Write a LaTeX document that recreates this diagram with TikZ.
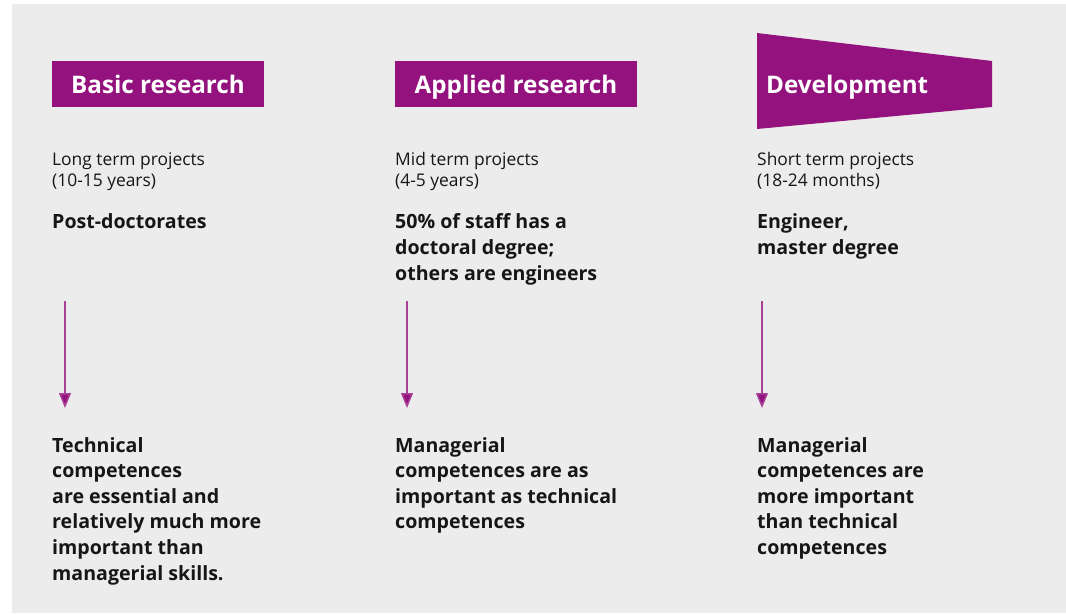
\documentclass[tikz,border=0pt]{standalone}
\usepackage{fontspec}
\setmainfont{Open Sans}
\usetikzlibrary{arrows.meta}
\definecolor{bg}{RGB}{235,236,235}
\definecolor{plum}{RGB}{148,18,126}
\definecolor{ink}{RGB}{22,22,22}
\tikzset{
  titlebox/.style={fill=plum, minimum height=46pt, inner sep=0pt},
  titletext/.style={text=white, inner sep=0pt, anchor=base,
    font=\fontsize{24.2}{29}\selectfont\bfseries},
  devtext/.style={titletext, anchor=base west},
  small/.style={text=ink, inner sep=0pt, anchor=base west, font=\fontsize{17.4}{21}\selectfont},
  strong/.style={text=ink, inner sep=0pt, anchor=base west, font=\fontsize{19.6}{25.6}\selectfont\bfseries},
  downarrow/.style={draw=plum!80, line width=1.5pt, -{Triangle[width=12pt,length=15pt,fill=plum]}}
}
\newcommand{\smalllines}[1]{\vtop{\baselineskip=21pt #1}}
\newcommand{\stronglines}[1]{\vtop{\baselineskip=25.6pt #1}}
\begin{document}
\begin{tikzpicture}[x=1pt,y=-1pt]
\useasboundingbox (0,0) rectangle (1066,615);
\fill[bg] (12,4) rectangle (1066,613);

% titles
\node[titlebox, minimum width=212pt] (b1) at (158,84) {};
\node[titletext] (t1) at (158,94) {Basic research};
\node[titlebox, minimum width=242pt] (b2) at (516,84) {};
\node[titletext] (t2) at (516,94) {Applied research};
\fill[plum] (757,33) -- (992,61) -- (992,107) -- (757,129) -- cycle;
\node[devtext] (t3) at (766,94) {Development};

% term lines
\node[small] (p1) at (52,165) {\smalllines{\hbox{Long term projects}\hbox{(10-15 years)}}};
\node[small] (p2) at (395,165) {\smalllines{\hbox{Mid term projects}\hbox{(4-5 years)}}};
\node[small] (p3) at (757,165) {\smalllines{\hbox{Short term projects}\hbox{(18-24 months)}}};

% staff
\node[strong] (s1) at (52,229) {\stronglines{\hbox{Post-doctorates}}};
\node[strong] (s2) at (395,229) {\stronglines{\hbox{50\% of staff has a}\hbox{doctoral degree;}\hbox{others are engineers}}};
\node[strong] (s3) at (757,229) {\stronglines{\hbox{Engineer,}\hbox{master degree}}};

% arrows
\coordinate (a1s) at (65,301);  \coordinate (a1e) at (65,408);
\coordinate (a2s) at (407,301); \coordinate (a2e) at (407,408);
\coordinate (a3s) at (762,301); \coordinate (a3e) at (762,408);
\draw[downarrow] (a1s) -- (a1e);
\draw[downarrow] (a2s) -- (a2e);
\draw[downarrow] (a3s) -- (a3e);

% competences
\node[strong] (c1) at (52,452) {\stronglines{\hbox{Technical}\hbox{competences}\hbox{are essential and}\hbox{relatively much more}\hbox{important than}\hbox{managerial skills.}}};
\node[strong] (c2) at (395,452) {\stronglines{\hbox{Managerial}\hbox{competences are as}\hbox{important as technical}\hbox{competences}}};
\node[strong] (c3) at (757,452) {\stronglines{\hbox{Managerial}\hbox{competences are}\hbox{more important}\hbox{than technical}\hbox{competences}}};
\end{tikzpicture}
\end{document}
